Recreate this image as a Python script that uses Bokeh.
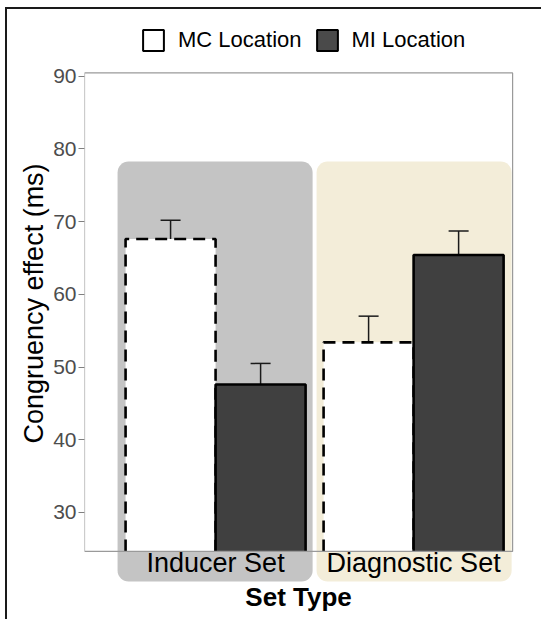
from bokeh.plotting import figure
from bokeh.models import (Range1d, FixedTicker, BoxAnnotation, Whisker, ColumnDataSource,
                          Legend, LegendItem, TeeHead, Title)
from bokeh.core.properties import value
from bokeh.embed import file_html
from bokeh.resources import INLINE

# ---- data ----
set_types = ["Inducer Set", "Diagnostic Set"]
locations = ["MC Location", "MI Location"]
mc_means = [67.6, 53.4]
mc_lower = [65.0, 49.8]
mc_upper = [70.2, 57.0]
mi_means = [47.6, 65.4]
mi_lower = [44.7, 62.0]
mi_upper = [50.5, 68.7]
y_ticks = [30, 40, 50, 60, 70, 80, 90]
x_title = "Set Type"
y_title = "Congruency effect (ms)"

FONT = "Liberation Sans"
NAN = float("nan")
base = [i + 1 for i in range(len(set_types))]
dodge = 0.2273
bar_w = 0.4545
Y0, Y1 = 24.64, 90.45          # visible panel limits (ggplot-like panel)
X0, X1 = 0.338, 2.5

p = figure(width=536, height=612, x_range=Range1d(X0, 2.656), y_range=Range1d(15.01, 99.17),
           output_backend="svg", toolbar_location=None,
           min_border_left=77, min_border_right=0, min_border_top=0, min_border_bottom=0)
p.styles = {"margin-left": "5px", "margin-top": "7px",
            "border-top": "2px solid #1a1a1a", "border-left": "2px solid #1a1a1a"}
p.outline_line_color = None
p.xaxis.visible = False
p.xgrid.visible = False
p.ygrid.visible = False

# background set panels (rounded)
p.add_layout(BoxAnnotation(left=0.505, right=1.49, bottom=20.51, top=78.27, fill_color="#c4c4c4",
                           fill_alpha=1, line_color=None, border_radius=11, level="underlay"))
p.add_layout(BoxAnnotation(left=1.51, right=2.495, bottom=20.51, top=78.27, fill_color="#f3edd9",
                           fill_alpha=1, line_color=None, border_radius=11, level="underlay"))

def outline(xs, tops):
    lx, ly = [], []
    for x, t in zip(xs, tops):
        lx.append([x - bar_w / 2, x - bar_w / 2, x + bar_w / 2, x + bar_w / 2])
        ly.append([Y0, t, t, Y0])
    return lx, ly

mc_x = [b - dodge for b in base]
mi_x = [b + dodge for b in base]
mc_src = ColumnDataSource(dict(x=mc_x, top=mc_means, lower=mc_lower, upper=mc_upper))
mi_src = ColumnDataSource(dict(x=mi_x, top=mi_means, lower=mi_lower, upper=mi_upper))

p.vbar(x="x", top="top", bottom=Y0, width=bar_w, source=mc_src, fill_color="white", line_color=None)
lx, ly = outline(mc_x, mc_means)
p.multi_line(lx, ly, line_color="black", line_width=2.6, line_dash="12 7")
p.vbar(x="x", top="top", bottom=Y0, width=bar_w, source=mi_src, fill_color="#404040", line_color=None)
lx, ly = outline(mi_x, mi_means)
p.multi_line(lx, ly, line_color="black", line_width=2.6)

for src in (mc_src, mi_src):
    p.add_layout(Whisker(base="x", lower="lower", upper="upper", source=src,
                         line_color="#1a1a1a", line_width=1.5,
                         upper_head=TeeHead(size=20, line_color="#1a1a1a", line_width=1.5),
                         lower_head=TeeHead(size=20, line_color="#1a1a1a", line_width=1.5)))

# panel border
p.add_layout(BoxAnnotation(left=X0, right=X1, bottom=Y0, top=Y1, fill_alpha=0,
                           line_color="#9a9a9a", line_alpha=1, line_width=1.2, level="overlay"))

# category labels and x title
p.text(x=base, y=[23.0] * len(base), text=set_types, text_align="center",
       text_baseline="alphabetic", text_font=value(FONT), text_font_size="27px", text_color="black")
p.text(x=[(X0 + X1) / 2], y=[18.4], text=[x_title], text_align="center",
       text_baseline="alphabetic", text_font=value(FONT), text_font_size="26px",
       text_font_style="bold", text_color="black")

# legend (key-only renderers, nothing drawn in the plot)
leg_mc = p.vbar(x=[NAN], top=[NAN], width=0.1, fill_color="white", line_color="black", line_width=2)
leg_mi = p.vbar(x=[NAN], top=[NAN], width=0.1, fill_color="#4a4a4a", line_color="black", line_width=2)
legend = Legend(items=[LegendItem(label=locations[0], renderers=[leg_mc]),
                       LegendItem(label=locations[1], renderers=[leg_mi])],
                orientation="horizontal", location=(56, 568),
                glyph_width=26, glyph_height=26, label_height=26, label_standoff=12, spacing=12,
                padding=0, margin=0, border_line_color=None, background_fill_alpha=0,
                label_text_font=FONT, label_text_font_size="22px", label_text_color="black")
p.add_layout(legend)

# y axis
p.yaxis.ticker = FixedTicker(ticks=y_ticks)
p.yaxis.axis_line_color = None
p.yaxis.minor_tick_line_color = None
p.yaxis.major_tick_line_color = "#7f7f7f"
p.yaxis.major_tick_in = 0
p.yaxis.major_tick_out = 6
p.yaxis.major_label_text_font = FONT
p.yaxis.major_label_text_font_size = "21px"
p.yaxis.major_label_text_color = "#4d4d4d"
p.yaxis.major_label_standoff = 2
p.add_layout(Title(text=y_title, align="left", offset=178, standoff=4, text_font=FONT,
                   text_font_size="27px", text_font_style="normal", text_color="black"), "left")

open("out.html", "w").write(file_html(p, INLINE))
